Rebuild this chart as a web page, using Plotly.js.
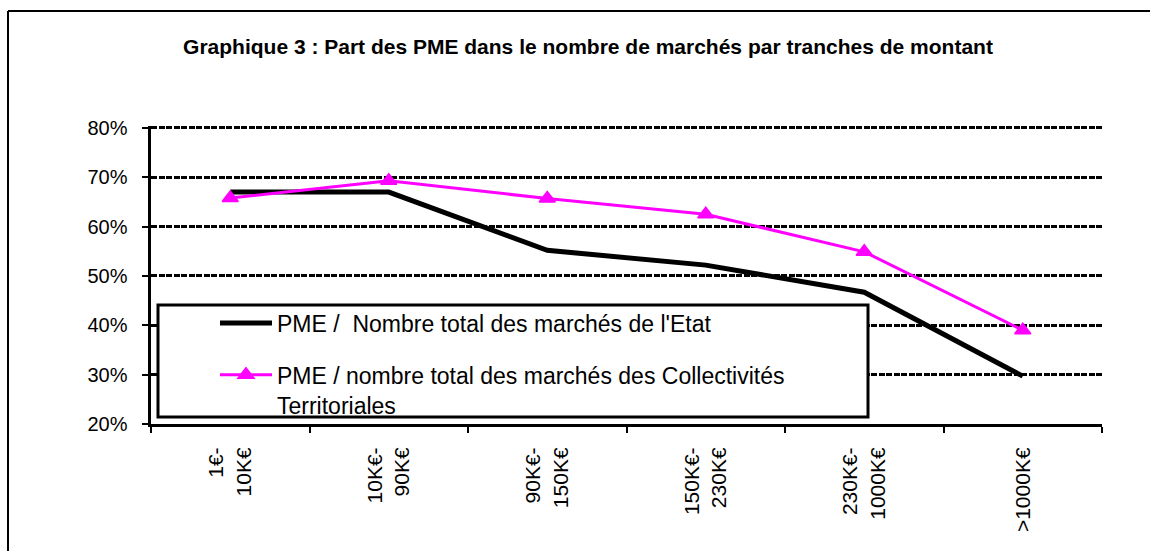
<!DOCTYPE html>
<html>
<head>
<meta charset="utf-8">
<script src="https://cdn.plot.ly/plotly-3.0.1.min.js"></script>
<style>html,body{margin:0;padding:0;background:#fff;}#chart{width:1150px;height:551px;}</style>
</head>
<body>
<div id="chart"></div>
<script>
const chartTitle = "Graphique 3 : Part des PME dans le nombre de marchés par tranches de montant";
const categories = ["1€-<br>10K€", "10K€-<br>90K€", "90K€-<br>150K€", "150K€-<br>230K€", "230K€-<br>1000K€", ">1000K€"];
const seriesNames = ["PME /\u00a0 Nombre total des marchés de l'Etat", "PME / nombre total des marchés des Collectivités<br>Territoriales"];
const etatValues = [0.670, 0.670, 0.552, 0.522, 0.467, 0.297];
const collValues = [0.658, 0.693, 0.657, 0.625, 0.549, 0.390];

const W = 1150, H = 551, L = 151, R = 48, T = 126, B = 127;
const pw = W - L - R, ph = H - T - B;
const px = x => (x - L) / pw;
const py = y => (H - B - y) / ph;
const FONT = 'Arial, "Liberation Sans", sans-serif';

const traces = [
  {x: categories, y: etatValues, name: seriesNames[0], type: 'scatter', mode: 'lines',
   line: {color: '#000000', width: 5}, legendgroup: 'a'},
  {x: categories, y: collValues, name: seriesNames[1], type: 'scatter', mode: 'lines+markers',
   line: {color: '#FF00FF', width: 3}, legendgroup: 'b',
   marker: {symbol: 'triangle-up', size: 14, color: '#FF00FF', line: {color: '#FF00FF', width: 1.5}}}
];

const layout = {
  width: W, height: H,
  margin: {l: L, r: R, t: T, b: B},
  paper_bgcolor: '#fff', plot_bgcolor: '#fff',
  font: {family: FONT, color: '#000'},
  title: {text: '<b>' + chartTitle + '</b>', font: {family: FONT, size: 21, color: '#000'},
          xref: 'container', x: 588 / W, xanchor: 'center', yref: 'container', y: 1 - 47 / H, yanchor: 'middle'},
  xaxis: {type: 'category', range: [-0.5, 5.5], autorange: false, showgrid: false, zeroline: false,
          showline: true, linecolor: '#000', linewidth: 3,
          ticks: 'outside', tickson: 'boundaries', ticklen: 6, tickwidth: 2, tickcolor: '#000',
          tickangle: -90, tickfont: {family: FONT, size: 21, color: '#000'}, ticklabelstandoff: 12},
  yaxis: {range: [0.2, 0.804], autorange: false, dtick: 0.1, tick0: 0.2, tickformat: '.0%', showgrid: true, gridcolor: '#000',
          gridwidth: 3, griddash: '6px,1.5px', zeroline: false, showline: true, linecolor: '#000', linewidth: 3.5,
          ticks: 'outside', ticklen: 6, tickwidth: 2, tickcolor: '#000',
          tickfont: {family: FONT, size: 20, color: '#000'}, ticklabelstandoff: 10},
  showlegend: true,
  legend: {x: px(215), y: py(301.5), xanchor: 'left', yanchor: 'top', bgcolor: 'rgba(0,0,0,0)', borderwidth: 0,
           font: {family: FONT, size: 23, color: '#000'}, itemwidth: 52, valign: 'top',
           traceorder: 'grouped', tracegroupgap: 19},
  shapes: [
    {type: 'rect', xref: 'paper', yref: 'paper', x0: px(158), x1: px(868), y0: py(305), y1: py(417),
     fillcolor: '#fff', line: {color: '#000', width: 3}, layer: 'above'},
    {type: 'line', xref: 'paper', yref: 'paper', x0: px(8), x1: px(1160), y0: py(11), y1: py(11),
     line: {color: '#000', width: 2}},
    {type: 'line', xref: 'paper', yref: 'paper', x0: px(8), x1: px(8), y0: py(11), y1: py(560),
     line: {color: '#000', width: 2}}
  ]
};

Plotly.newPlot('chart', traces, layout, {displayModeBar: false, staticPlot: true});
</script>
</body>
</html>
